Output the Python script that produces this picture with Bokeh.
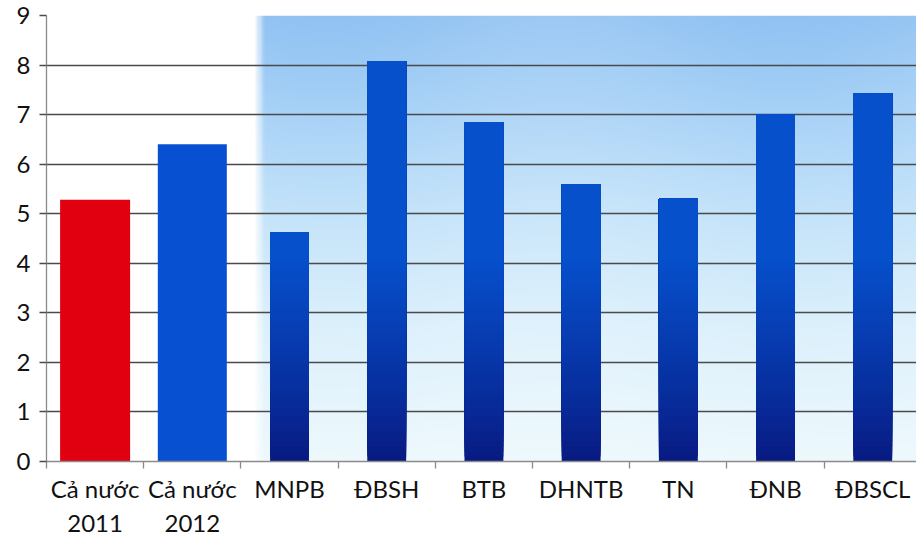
import numpy as np
from bokeh.plotting import figure
from bokeh.models import FixedTicker, Range1d
from bokeh.embed import file_html
from bokeh.resources import INLINE

# ---- data ----
categories = ["Cả nước\n2011", "Cả nước\n2012", "MNPB", "ĐBSH", "BTB",
              "DHNTB", "TN", "ĐNB", "ĐBSCL"]
values = [5.28, 6.40, 4.62, 8.08, 6.85, 5.60, 5.30, 7.00, 7.43]
y_ticks = [0, 1, 2, 3, 4, 5, 6, 7, 8, 9]

FONT = "Lato"
n = len(categories)
centers = [i + 0.5 for i in range(n)]
bounds = [float(i) for i in range(n + 1)]

p = figure(width=916, height=540, output_backend="svg", toolbar_location=None,
           x_range=Range1d(0, 8.95), y_range=Range1d(0, 9),
           min_border_left=46, min_border_right=0, min_border_top=15,
           min_border_bottom=79)
p.outline_line_color = None
p.background_fill_color = "white"
p.border_fill_color = "white"

# ---- background gradient behind the regional bars ----
ny, nx = 220, 300
stops_t = [0.0, 0.3, 0.55, 0.8, 1.0]
stops_c = np.array([[238, 249, 253], [222, 241, 252], [200, 229, 250],
                    [170, 211, 247], [150, 197, 243]], dtype=float)
tt = np.linspace(0, 1, ny)
col = np.stack([np.interp(tt, stops_t, stops_c[:, k]) for k in range(3)], axis=1)
img = np.empty((ny, nx, 4), dtype=np.uint8)
xx = np.linspace(0, 1, nx)
fade = np.clip(xx / 0.015, 0, 1)
wave = 1 + 0.06 * np.sin(xx * 9.0 + 0.6)
for r in range(ny):
    c = col[r]
    rowc = 255 - (255 - c)[None, :] * (fade * wave)[:, None]
    img[r, :, :3] = np.clip(rowc, 0, 255).astype(np.uint8)
img[:, :, 3] = 255
img32 = img.view(dtype=np.uint32).reshape((ny, nx))
bg_x0 = 2.13
bg = p.image_rgba(image=[img32], x=bg_x0, y=0, dw=8.95 - bg_x0, dh=9)
bg.level = "image"

# ---- bars ----
p.vbar(x=[centers[0]], top=[values[0]], bottom=0, width=0.72,
       fill_color="#e0000f", line_color=None)
p.vbar(x=[centers[1]], top=[values[1]], bottom=0, width=0.71,
       fill_color="#0850d2", line_color=None)

region_idx = list(range(2, n))
dark = np.array([8, 26, 130], dtype=float)
bright = np.array([6, 80, 204], dtype=float)
grad_top = 4.2
n_bands = 42
xs = [centers[i] for i in region_idx]
tops = [values[i] for i in region_idx]
for k in range(n_bands):
    b0 = grad_top * k / n_bands
    t = k / (n_bands - 1)
    c = dark + (bright - dark) * (t ** 0.9)
    hexc = "#%02x%02x%02x" % tuple(int(round(v)) for v in c)
    p.vbar(x=xs, bottom=b0, top=tops, width=0.4,
           fill_color=hexc, line_color=None)

# ---- axes ----
p.ygrid.ticker = FixedTicker(ticks=y_ticks)
p.ygrid.grid_line_color = "#4a4a4a"
p.ygrid.grid_line_width = 1.4
p.xgrid.grid_line_color = None

ya = p.yaxis[0]
ya.ticker = FixedTicker(ticks=y_ticks)
ya.axis_line_color = "#8a8a8a"
ya.axis_line_width = 1.3
ya.major_tick_line_color = "#4a4a4a"
ya.major_tick_line_width = 1.4
ya.major_tick_out = 7
ya.major_tick_in = 0
ya.minor_tick_line_color = None
ya.major_label_text_font = FONT
ya.major_label_text_font_size = "24px"
ya.major_label_text_color = "#111111"
ya.major_label_standoff = 9

xa = p.xaxis[0]
xa.ticker = FixedTicker(ticks=centers, minor_ticks=bounds)
xa.major_label_overrides = {c: lab for c, lab in zip(centers, categories)}
xa.axis_line_color = "#8a8a8a"
xa.axis_line_width = 1.3
xa.major_tick_line_color = None
xa.major_tick_out = 0
xa.major_tick_in = 0
xa.minor_tick_line_color = "#8a8a8a"
xa.minor_tick_line_width = 1.3
xa.minor_tick_out = 7
xa.minor_tick_in = 0
xa.major_label_text_font = FONT
xa.major_label_text_font_size = "24px"
xa.major_label_text_color = "#111111"
xa.major_label_standoff = 5

open("out.html", "w").write(file_html(p, INLINE))
